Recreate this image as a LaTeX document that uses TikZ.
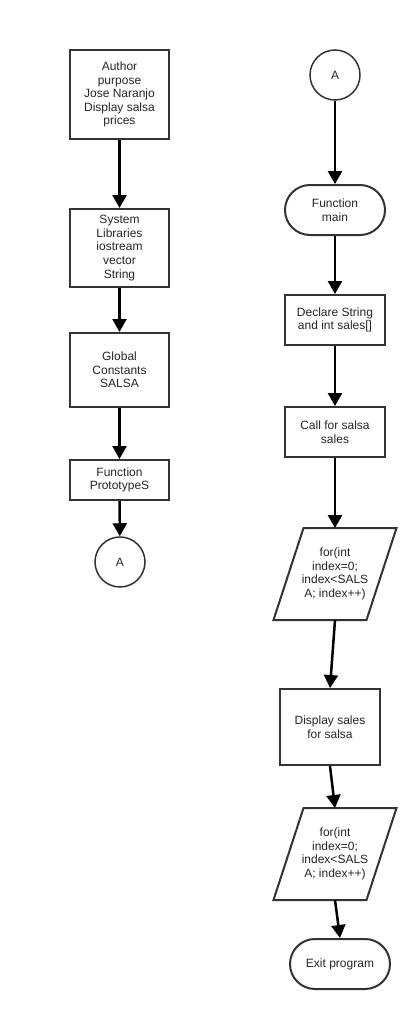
\documentclass[tikz,border=0pt]{standalone}
\usepackage{fontspec}
\setmainfont{Liberation Sans}
\usetikzlibrary{arrows.meta}
\begin{document}
\begin{tikzpicture}[x=1pt,y=-1pt,
  every node/.style={font=\fontsize{12}{13.6}\selectfont,text=black!85,align=center,inner sep=0pt},
  box/.style={draw=black!80,line width=2pt,minimum width=99pt},
  term/.style={draw=black!80,line width=2pt,rounded corners=25pt,minimum width=100pt,minimum height=50pt},
  conn/.style={draw=black!80,line width=1.5pt,circle,minimum size=50pt},
  io/.style={minimum width=91pt,minimum height=90pt,outer sep=1pt},
  ioline/.style={draw=black!80,line width=2pt,line join=miter},
  arr/.style={-{Triangle[length=13pt,width=14pt]},line width=2.5pt}]
\useasboundingbox[fill=white] (0,0) rectangle (416,1010);
\node[box,minimum height=89pt] (auth) at (119.5,94.5) {Author\\purpose\\Jose Naranjo\\Display salsa\\prices};
\node[box,minimum height=78pt] (libs) at (119.5,248) {System\\Libraries\\iostream\\vector\\String};
\node[box,minimum height=74pt] (glob) at (119.5,370) {Global\\Constants\\SALSA};
\node[box,minimum height=40pt] (proto) at (119.5,480) {Function\\PrototypeS};
\node[conn] (offA) at (120,562) {A};
\draw[arr] (auth) -- (libs);
\draw[arr] (libs) -- (glob);
\draw[arr] (glob) -- (proto);
\draw[arr] (proto) -- (offA);
\node[conn] (onA) at (335,75) {A};
\node[term] (main) at (335,210) {Function\\main};
\node[box,minimum width=100pt,minimum height=50pt] (decl) at (335,320) {Declare String\\and int sales[]};
\node[box,minimum width=100pt,minimum height=50pt] (call) at (335,432) {Call for salsa\\sales};
\node[io] (loopA) at (335,574) {for(int\\index=0;\\index<SALS\\A; index++)};
\draw[ioline] ([xshift=15pt]loopA.north west) -- ([xshift=15pt]loopA.north east) -- ([xshift=-15pt]loopA.south east) -- ([xshift=-15pt]loopA.south west) -- cycle;
\node[box,minimum width=100pt,minimum height=76pt] (disp) at (330,727) {Display sales\\for salsa};
\node[io] (loopB) at (335,854) {for(int\\index=0;\\index<SALS\\A; index++)};
\draw[ioline] ([xshift=15pt]loopB.north west) -- ([xshift=15pt]loopB.north east) -- ([xshift=-15pt]loopB.south east) -- ([xshift=-15pt]loopB.south west) -- cycle;
\node[term] (exit) at (340,964) {Exit program};
\draw[arr] (onA) -- (main);
\draw[arr] (main) -- (decl);
\draw[arr] (decl) -- (call);
\draw[arr] (call) -- (loopA);
\draw[arr] (loopA.south) -- (disp.north);
\draw[arr] (disp.south) -- (loopB.north);
\draw[arr] (loopB.south) -- (exit.north);
\end{tikzpicture}
\end{document}
